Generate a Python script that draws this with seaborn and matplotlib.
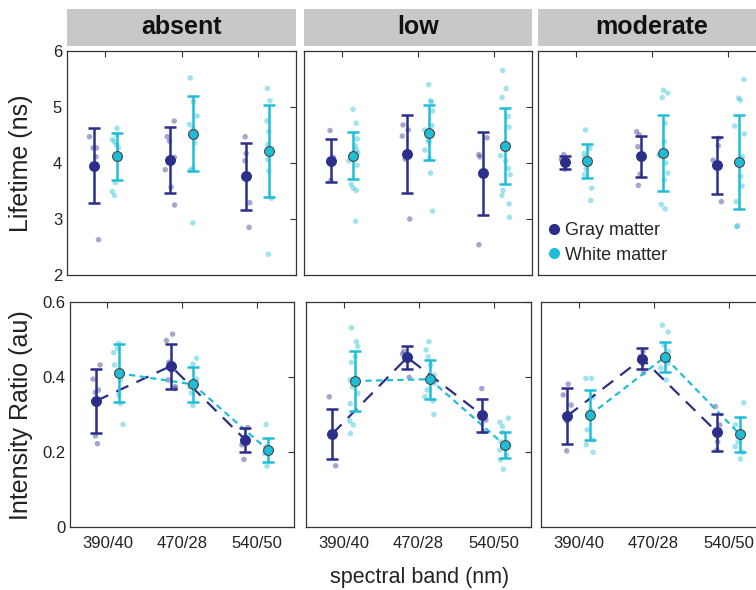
import numpy as np
import pandas as pd
import matplotlib.pyplot as plt
from matplotlib.patches import Rectangle
from matplotlib.lines import Line2D
import seaborn as sns

conditions = ['absent', 'low', 'moderate']
bands = ['390/40', '470/28', '540/50']
tissues = ['Gray matter', 'White matter']

# lifetime (ns) - means and error bar half widths, rows = condition, cols = band
life_mean_gray = [[3.95, 4.05, 3.76], [4.04, 4.16, 3.82], [4.01, 4.12, 3.96]]
life_mean_white = [[4.12, 4.52, 4.21], [4.13, 4.54, 4.30], [4.04, 4.18, 4.02]]
life_err_gray = [[0.67, 0.59, 0.60], [0.38, 0.69, 0.74], [0.11, 0.37, 0.51]]
life_err_white = [[0.42, 0.67, 0.82], [0.42, 0.49, 0.68], [0.30, 0.68, 0.84]]

# lifetime individual samples
life_pts_absent_gray = [[4.47, 4.27, 4.27, 4.11, 2.63],
                        [4.75, 4.47, 4.39, 4.10, 3.88, 3.57, 3.25],
                        [4.47, 4.17, 4.04, 3.29, 2.85]]
life_pts_absent_white = [[4.62, 4.50, 4.42, 4.38, 4.32, 4.27, 4.07, 3.65, 3.49, 3.42],
                         [5.52, 5.09, 4.84, 4.69, 4.62, 4.46, 4.36, 3.90, 3.87, 2.93],
                         [5.33, 5.11, 4.75, 4.56, 4.33, 4.23, 4.06, 3.86, 3.37, 2.37]]
life_pts_low_gray = [[4.58, 4.10, 4.02, 3.69],
                     [4.68, 4.59, 4.48, 4.07, 3.00],
                     [4.45, 4.15, 4.11, 3.86, 2.54]]
life_pts_low_white = [[4.96, 4.71, 4.43, 4.31, 4.24, 4.18, 4.04, 3.96, 3.62, 3.55, 3.51, 2.96],
                      [5.40, 5.11, 5.09, 4.93, 4.67, 4.59, 4.41, 4.38, 4.23, 4.08, 3.82, 3.14],
                      [5.65, 5.33, 5.17, 4.83, 4.64, 4.13, 4.04, 3.90, 3.79, 3.51, 3.42, 3.27, 3.03]]
life_pts_moderate_gray = [[4.15, 4.06, 3.98, 3.89],
                          [4.56, 4.50, 4.29, 3.80, 3.60],
                          [4.44, 4.31, 4.05, 3.31]]
life_pts_moderate_white = [[4.59, 4.26, 4.17, 4.10, 4.02, 3.89, 3.79, 3.55, 3.33],
                           [5.30, 5.25, 5.17, 4.71, 4.38, 4.20, 4.14, 4.00, 3.82, 3.70, 3.26, 3.18],
                           [5.49, 5.16, 5.12, 4.66, 4.52, 4.11, 3.76, 3.59, 3.31, 2.88, 2.86]]

# intensity ratio (au)
ratio_mean_gray = [[0.337, 0.430, 0.233], [0.249, 0.453, 0.299], [0.297, 0.450, 0.253]]
ratio_mean_white = [[0.411, 0.381, 0.206], [0.390, 0.395, 0.219], [0.299, 0.454, 0.248]]
ratio_err_gray = [[0.085, 0.060, 0.031], [0.066, 0.030, 0.044], [0.074, 0.027, 0.049]]
ratio_err_white = [[0.077, 0.047, 0.033], [0.080, 0.052, 0.034], [0.066, 0.039, 0.046]]

ratio_pts_absent_gray = [[0.433, 0.395, 0.366, 0.360, 0.244, 0.223],
                         [0.515, 0.498, 0.440, 0.420, 0.393, 0.375, 0.370],
                         [0.266, 0.242, 0.220, 0.181]]
ratio_pts_absent_white = [[0.490, 0.477, 0.466, 0.433, 0.393, 0.353, 0.330, 0.274],
                          [0.451, 0.435, 0.395, 0.375, 0.358, 0.325],
                          [0.274, 0.215, 0.196, 0.163]]
ratio_pts_low_gray = [[0.348, 0.245, 0.242, 0.164],
                      [0.469, 0.462, 0.447, 0.400],
                      [0.370, 0.299, 0.286, 0.255]]
ratio_pts_low_white = [[0.532, 0.495, 0.482, 0.455, 0.440, 0.393, 0.375, 0.357, 0.330, 0.283, 0.273, 0.250],
                       [0.495, 0.473, 0.455, 0.433, 0.406, 0.384, 0.366, 0.348, 0.337, 0.301],
                       [0.291, 0.280, 0.269, 0.253, 0.228, 0.219, 0.206, 0.193, 0.180, 0.155]]
ratio_pts_moderate_gray = [[0.382, 0.353, 0.326, 0.283, 0.204],
                           [0.469, 0.455, 0.437, 0.412],
                           [0.322, 0.273, 0.228, 0.206]]
ratio_pts_moderate_white = [[0.397, 0.397, 0.347, 0.313, 0.260, 0.233, 0.220, 0.200],
                            [0.539, 0.521, 0.486, 0.469, 0.438, 0.425, 0.393],
                            [0.332, 0.273, 0.242, 0.228, 0.215, 0.200, 0.182]]

life_pts = [(life_pts_absent_gray, life_pts_absent_white),
            (life_pts_low_gray, life_pts_low_white),
            (life_pts_moderate_gray, life_pts_moderate_white)]
ratio_pts = [(ratio_pts_absent_gray, ratio_pts_absent_white),
             (ratio_pts_low_gray, ratio_pts_low_white),
             (ratio_pts_moderate_gray, ratio_pts_moderate_white)]

navy = '#2b2f8a'
cyan = '#20bdd6'
colors = {'Gray matter': navy, 'White matter': cyan}
offsets = {'Gray matter': -0.15, 'White matter': 0.15}

sns.set_style('white')
plt.rcParams['font.family'] = ['Liberation Sans', 'DejaVu Sans']
np.random.seed(7)

W, H = 756, 590
fig = plt.figure(figsize=(W / 100, H / 100), dpi=100)


def add_px_axes(x0, x1, y0, y1):
    return fig.add_axes([x0 / W, 1 - y1 / H, (x1 - x0) / W, (y1 - y0) / H])


def points_frame(gray, white):
    rows = []
    for tissue, pts in zip(tissues, (gray, white)):
        for i, vals in enumerate(pts):
            for v in vals:
                rows.append({'tissue': tissue, 'x': i + 1 + offsets[tissue], 'value': v})
    return pd.DataFrame(rows)


def means_frame(mg, mw, eg, ew):
    rows = []
    for tissue, m, e in zip(tissues, (mg, mw), (eg, ew)):
        for i in range(len(bands)):
            rows.append({'tissue': tissue, 'x': i + 1 + offsets[tissue], 'mean': m[i], 'err': e[i]})
    return pd.DataFrame(rows)


def draw_panel(ax, pts_df, mean_df, lines):
    sns.stripplot(data=pts_df, x='x', y='value', hue='tissue', palette=colors,
                  native_scale=True, orient='x', jitter=0.22, size=4, alpha=0.42,
                  linewidth=0, legend=False, ax=ax, zorder=2)
    if lines:
        sns.lineplot(data=mean_df, x='x', y='mean', hue='tissue', style='tissue',
                     palette=colors, dashes={'Gray matter': (6, 4), 'White matter': (2.8, 2)},
                     lw=1.6, legend=False, ax=ax, zorder=3)
    for tissue in tissues:
        d = mean_df[mean_df['tissue'] == tissue]
        ax.errorbar(d['x'], d['mean'], yerr=d['err'], fmt='none', ecolor=colors[tissue],
                    elinewidth=1.8, capsize=4, capthick=1.8, zorder=4)
        ax.scatter(d['x'], d['mean'], s=50, color=colors[tissue],
                   edgecolor='#444444' if tissue == 'White matter' else colors[tissue],
                   linewidth=0.8, zorder=5)
    ax.set_xlim(0.5, 3.5)
    ax.set_xticks([1, 2, 3])
    ax.set_xlabel('')
    ax.set_ylabel('')
    ax.tick_params(direction='in', top=True, right=True, length=4, width=0.8,
                   colors='#333333', labelcolor='#222222', labelsize=12)
    for sp in ax.spines.values():
        sp.set_color('#333333')
        sp.set_linewidth(0.9)


top_cols = [(67, 296), (304, 532), (538, 766)]
bot_cols = [(70, 294), (306, 531), (541, 766)]

for c, cond in enumerate(conditions):
    # header box
    x0, x1 = top_cols[c]
    fig.add_artist(Rectangle((x0 / W, 1 - 46 / H), (x1 - x0) / W, 37 / H,
                             transform=fig.transFigure, facecolor='#c8c8c9', edgecolor='none'))
    fig.text((x0 + x1) / 2 / W, 1 - 27.5 / H, cond, ha='center', va='center',
             fontsize=18, fontweight='bold', color='#111111')

    ax = add_px_axes(x0, x1, 51, 275)
    draw_panel(ax, points_frame(*life_pts[c]),
               means_frame(life_mean_gray[c], life_mean_white[c], life_err_gray[c], life_err_white[c]),
               lines=False)
    ax.set_ylim(2, 6)
    ax.set_yticks([2, 3, 4, 5, 6])
    ax.set_xticklabels([])
    if c == 0:
        ax.set_ylabel('Lifetime (ns)', fontsize=18, color='#222222')
        ax.yaxis.set_label_coords(-0.15, 0.5)
    else:
        ax.set_yticklabels([])
    if c == 2:
        handles = [Line2D([], [], ls='none', marker='o', ms=7, color=colors[t]) for t in tissues]
        ax.legend(handles, tissues, loc='upper left', bbox_to_anchor=(0.0, 0.283), frameon=False,
                  fontsize=13, handlelength=0.6, handletextpad=0.3, labelspacing=0.4,
                  borderaxespad=0.2)

    x0, x1 = bot_cols[c]
    ax = add_px_axes(x0, x1, 302.3, 527.3)
    draw_panel(ax, points_frame(*ratio_pts[c]),
               means_frame(ratio_mean_gray[c], ratio_mean_white[c], ratio_err_gray[c], ratio_err_white[c]),
               lines=True)
    ax.set_ylim(0, 0.6)
    ax.set_yticks([0, 0.2, 0.4, 0.6])
    ax.set_xticklabels(bands)
    ax.tick_params(axis='x', pad=6)
    if c == 0:
        ax.set_yticklabels(['0', '0.2', '0.4', '0.6'])
        ax.set_ylabel('Intensity Ratio (au)', fontsize=18, color='#222222')
        ax.yaxis.set_label_coords(-0.165, 0.5)
    else:
        ax.set_yticklabels([])

fig.text(420 / W, 1 - 577 / H, 'spectral band (nm)', ha='center', va='center',
         fontsize=15.5, color='#222222')

plt.savefig('out.png', dpi=100)
